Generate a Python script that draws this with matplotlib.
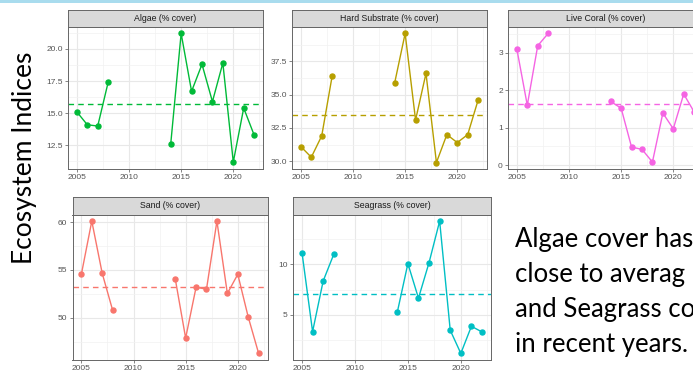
import numpy as np
import matplotlib.pyplot as plt

W, H = 693, 371

# ---- data ----
years = [2005, 2006, 2007, 2008, 2014, 2015, 2016, 2017, 2018, 2019, 2020, 2021, 2022]
algae = [15.1, 14.1, 14.0, 17.4, 12.6, 21.2, 16.7, 18.8, 15.9, 18.9, 11.2, 15.4, 13.3]
hard_substrate = [31.1, 30.3, 31.9, 36.4, 35.9, 39.6, 33.1, 36.6, 29.9, 32.0, 31.4, 32.0, 34.6]
live_coral = [3.10, 1.60, 3.19, 3.52, 1.70, 1.52, 0.48, 0.42, 0.08, 1.39, 0.97, 1.90, 1.42]
sand = [54.55, 60.1, 54.65, 50.8, 54.1, 47.9, 53.2, 53.0, 60.1, 52.55, 54.55, 50.1, 46.3]
seagrass = [11.16, 3.34, 8.35, 10.99, 5.26, 10.07, 6.65, 10.17, 14.27, 3.48, 1.19, 3.87, 3.31]

titles = ['Algae (% cover)', 'Hard Substrate (% cover)', 'Live Coral (% cover)',
          'Sand (% cover)', 'Seagrass (% cover)']
series = [algae, hard_substrate, live_coral, sand, seagrass]
colors = ['#00BA38', '#B79F00', '#F564E3', '#F8766D', '#00BFC4']
yticks = [[12.5, 15, 17.5, 20], [30, 32.5, 35, 37.5], [0, 1, 2, 3], [50, 55, 60], [5, 10]]
ylabels = [['12.5', '15.0', '17.5', '20.0'], ['30.0', '32.5', '35.0', '37.5'],
           ['0', '1', '2', '3'], ['50', '55', '60'], ['5', '10']]
xticks = [2005, 2010, 2015, 2020]

# panel boxes in pixels: left, top, right, bottom
boxes = [(68, 27, 263, 168.5), (292, 27, 487, 169), (508, 27, 703, 168.5),
         (72.5, 214.5, 267.5, 360), (293, 214.5, 491, 360)]
STRIP = 17.5


def frac(l, t, r, b):
    return [l / W, 1 - b / H, (r - l) / W, (b - t) / H]


def minors(major, lo, hi):
    step = major[1] - major[0]
    ext = [major[0] - step] + list(major) + [major[-1] + step]
    mids = [(a + b) / 2 for a, b in zip(ext[:-1], ext[1:])]
    return [m for m in mids if lo <= m <= hi]


fig = plt.figure(figsize=(W / 100, H / 100), dpi=100)
plt.rcParams['font.family'] = 'Liberation Sans'

# thin blue rule at the top of the slide
fig.add_artist(plt.Rectangle((0, 1 - 2.5 / H), 1, 2.5 / H, transform=fig.transFigure,
                             color='#a9dcee', lw=0))

for i in range(5):
    l, t, r, b = boxes[i]
    ax = fig.add_axes(frac(l, t, r, b))
    vals = np.array(series[i])
    yrs = np.array(years)
    # break line where years are missing
    split = np.where(np.diff(yrs) > 1)[0] + 1
    for seg_y, seg_v in zip(np.split(yrs, split), np.split(vals, split)):
        ax.plot(seg_y, seg_v, color=colors[i], lw=1.0, marker='o', ms=3.6, mec=colors[i], zorder=3)
    ax.axhline(vals.mean(), color=colors[i], lw=1.0, ls=(0, (4, 3)), zorder=2)

    ax.set_xlim(2004.15, 2022.85)
    span = vals.max() - vals.min()
    ylo, yhi = vals.min() - 0.05 * span, vals.max() + 0.05 * span
    ax.set_ylim(ylo, yhi)

    ax.set_xticks(xticks)
    ax.set_xticks(minors(xticks, 2004.15, 2022.85), minor=True)
    ax.set_yticks(yticks[i])
    ax.set_yticklabels(ylabels[i])
    ax.set_yticks(minors(yticks[i], ylo, yhi), minor=True)
    ax.grid(which='major', color='#e8e8e8', lw=0.8)
    ax.grid(which='minor', color='#f2f2f2', lw=0.5)
    ax.set_axisbelow(True)
    ax.tick_params(which='major', length=2.2, width=0.5, color='#555555', labelsize=6,
                   labelcolor='#555555', pad=1.5)
    ax.tick_params(which='minor', length=0)
    for s in ax.spines.values():
        s.set_color('#666666')
        s.set_linewidth(0.7)

    sx = fig.add_axes(frac(l, t - STRIP, r, t))
    sx.set_facecolor('#d9d9d9')
    sx.set_xticks([])
    sx.set_yticks([])
    for s in sx.spines.values():
        s.set_color('#666666')
        s.set_linewidth(0.7)
    sx.text(0.5, 0.5, titles[i], ha='center', va='center', fontsize=6.3, color='#1a1a1a',
            transform=sx.transAxes)

fig.text(25 / W, 1 - 158 / H, 'Ecosystem Indices', rotation=90, ha='center', va='center',
         fontsize=19, family='Lato', color='#000000')

notes = ['Algae cover has', 'close to averag', 'and Seagrass co', 'in recent years.']
for k, line in enumerate(notes):
    fig.text(515 / W, 1 - (247 + 35 * k) / H, line, ha='left', va='baseline',
             fontsize=18.5, family='Lato', color='#000000')

fig.savefig('out.png', dpi=100)
